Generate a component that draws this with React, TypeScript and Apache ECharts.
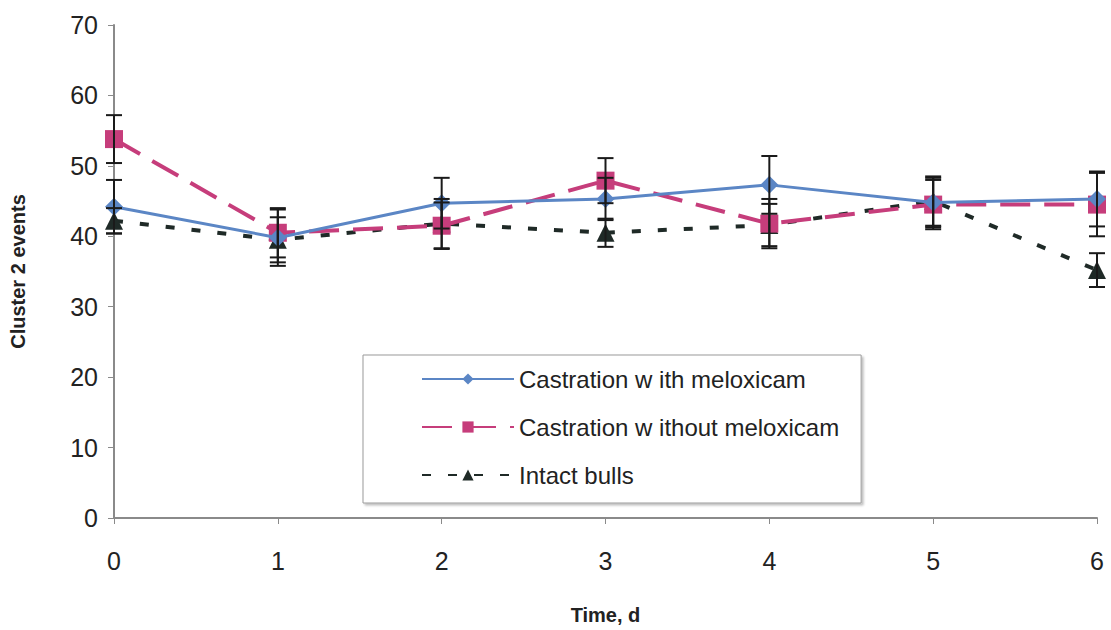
import React, { useEffect, useRef } from "react";
import * as echarts from "echarts";

const days = [0, 1, 2, 3, 4, 5, 6];
const withMelox = [44.2, 39.8, 44.7, 45.3, 47.3, 44.8, 45.3];
const withMeloxErr = [3.8, 4.0, 3.6, 3.0, 4.1, 3.5, 3.9];
const withoutMelox = [53.8, 40.5, 41.5, 47.9, 41.8, 44.5, 44.5];
const withoutMeloxErr = [3.4, 3.5, 3.3, 3.2, 3.5, 3.5, 4.5];
const intact = [42.2, 39.5, 41.8, 40.5, 41.6, 45.0, 35.2];
const intactErr = [1.8, 3.2, 3.5, 2.0, 3.0, 3.5, 2.4];

const names = [
  "Castration w ith meloxicam",
  "Castration w ithout meloxicam",
  "Intact bulls",
];

export default function App() {
  const ref = useRef<HTMLDivElement>(null);
  useEffect(() => {
    const chart = echarts.init(ref.current!, null, { renderer: "svg" });
    const pts = (vals: number[]) => days.map((d, i) => [d, vals[i]]);
    const errData = (vals: number[], errs: number[]) =>
      days.map((d, i) => [d, vals[i] - errs[i], vals[i] + errs[i]]);
    const errSeries = (vals: number[], errs: number[]) => ({
      type: "custom",
      z: 10,
      silent: true,
      data: errData(vals, errs),
      renderItem: (params: any, api: any) => {
        const x = api.value(0);
        const lo = api.coord([x, api.value(1)]);
        const hi = api.coord([x, api.value(2)]);
        const w = 8;
        const style = { stroke: "#1a1a1a", lineWidth: 2 };
        return {
          type: "group",
          children: [
            { type: "line", shape: { x1: lo[0], y1: lo[1], x2: hi[0], y2: hi[1] }, style },
            { type: "line", shape: { x1: lo[0] - w, y1: lo[1], x2: lo[0] + w, y2: lo[1] }, style },
            { type: "line", shape: { x1: hi[0] - w, y1: hi[1], x2: hi[0] + w, y2: hi[1] }, style },
          ],
        };
      },
    });
    const font = "Liberation Sans, Arial, sans-serif";
    chart.setOption({
      animation: false,
      backgroundColor: "#ffffff",
      grid: { left: 110, right: 14, top: 25, bottom: 112 },
      legend: {
        data: names,
        orient: "vertical",
        left: 363,
        top: 355,
        itemWidth: 92,
        itemHeight: 14,
        itemGap: 24,
        padding: [12, 22, 16, 58],
        borderColor: "#9a9a9a",
        borderWidth: 1,
        backgroundColor: "#ffffff",
        shadowColor: "rgba(0,0,0,0.25)",
        shadowOffsetX: 2,
        shadowOffsetY: 2,
        shadowBlur: 2,
        textStyle: { fontFamily: font, fontSize: 24, color: "#222" },
      },
      xAxis: {
        type: "value",
        min: 0,
        max: 6,
        interval: 1,
        name: "Time, d",
        nameLocation: "middle",
        nameGap: 87,
        nameTextStyle: { fontFamily: font, fontSize: 20, fontWeight: "bold", color: "#222" },
        axisLine: { lineStyle: { color: "#8a8a8a", width: 2 } },
        axisTick: { show: true, length: 6, lineStyle: { color: "#8a8a8a" } },
        axisLabel: { fontFamily: font, fontSize: 25, color: "#222", margin: 30 },
        splitLine: { show: false },
      },
      yAxis: {
        type: "value",
        min: 0,
        max: 70,
        interval: 10,
        name: "Cluster 2 events",
        nameLocation: "middle",
        nameGap: 86,
        nameTextStyle: { fontFamily: font, fontSize: 20, fontWeight: "bold", color: "#222" },
        axisLine: { show: true, lineStyle: { color: "#8a8a8a", width: 2 } },
        axisTick: { show: true, length: 6, lineStyle: { color: "#8a8a8a" } },
        axisLabel: { fontFamily: font, fontSize: 25, color: "#222", margin: 16 },
        splitLine: { show: false },
      },
      series: [
        {
          name: names[2],
          type: "line",
          data: pts(intact),
          symbol: "triangle",
          symbolSize: 18,
          itemStyle: { color: "#1f2a27" },
          lineStyle: { color: "#1f2a27", width: 4, type: [9, 17] },
          z: 3,
        },
        {
          name: names[1],
          type: "line",
          data: pts(withoutMelox),
          symbol: "rect",
          symbolSize: 18,
          itemStyle: { color: "#c63d7b" },
          lineStyle: { color: "#c63d7b", width: 4, type: [30, 14] },
          z: 4,
        },
        {
          name: names[0],
          type: "line",
          data: pts(withMelox),
          symbol: "diamond",
          symbolSize: 18,
          itemStyle: { color: "#5b86c5" },
          lineStyle: { color: "#5b86c5", width: 3 },
          z: 5,
        },
        errSeries(withMelox, withMeloxErr),
        errSeries(withoutMelox, withoutMeloxErr),
        errSeries(intact, intactErr),
      ],
    });
    return () => chart.dispose();
  }, []);
  return (
    <div
      ref={ref}
      style={{ position: "fixed", left: 0, top: 0, width: 1111, height: 630, background: "#fff" }}
    />
  );
}
